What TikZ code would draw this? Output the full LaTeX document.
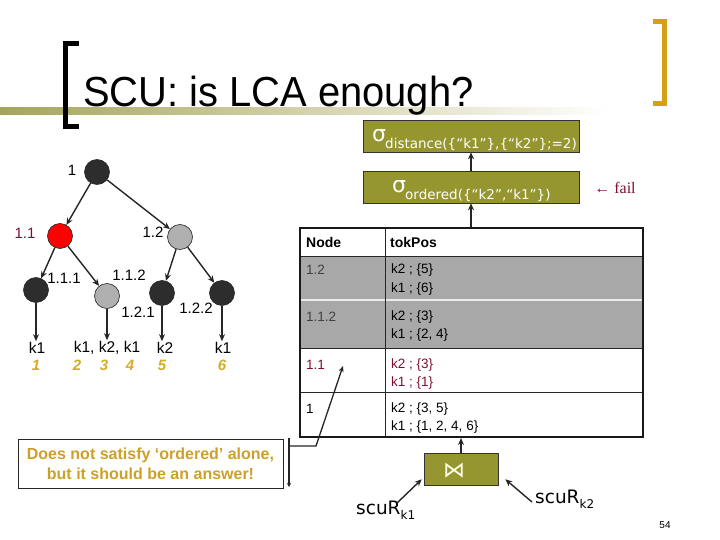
\documentclass[tikz,border=0pt]{standalone}
\usepackage{fontspec}
\setmainfont{Liberation Sans}
\newfontfamily\dvs{DejaVu Sans}
\newfontfamily\lserif{Liberation Serif}
\usetikzlibrary{arrows.meta}
\definecolor{olivebox}{RGB}{150,150,48}
\definecolor{oliveband}{RGB}{165,165,90}
\definecolor{goldtxt}{RGB}{205,160,40}
\definecolor{goldnum}{RGB}{212,172,40}
\definecolor{goldbr}{RGB}{214,160,20}
\definecolor{maroonc}{RGB}{128,16,48}
\definecolor{tgray}{RGB}{168,168,168}
\definecolor{ngray}{RGB}{176,176,176}
\definecolor{ndark}{RGB}{45,45,45}
\begin{document}
\begin{tikzpicture}[x=1pt,y=-1pt,
  tnode/.style={circle,minimum size=25pt,inner sep=0pt,draw=black!85,line width=0.6pt},
  arr/.style={-{Stealth[length=7pt,width=6pt]},line width=1.4pt,draw=black!85},
  lbl/.style={font=\fontsize{15}{15}\selectfont,inner sep=0pt},
  leaf/.style={font=\fontsize{15.5}{15.5}\selectfont,inner sep=1pt},
  num/.style={font=\fontsize{15}{15}\selectfont\bfseries\itshape,text=goldnum,inner sep=0pt},
  tt/.style={font=\fontsize{13.5}{13.5}\selectfont,anchor=west,inner sep=0pt},
  th/.style={font=\fontsize{14}{14}\selectfont\bfseries,anchor=west,inner sep=0pt},
  opbox/.style={draw=black!80,line width=0.6pt,fill=olivebox,minimum width=216pt,minimum height=32pt,inner sep=0pt},
  optxt/.style={text=white,inner sep=0pt,anchor=base west},
  bracket/.style={line width=5pt,line cap=butt,line join=miter}]
\useasboundingbox (0,0) rectangle (720,540);
\fill[white] (0,0) rectangle (720,540);

% title area
\shade[left color=oliveband, right color=white] (0,108) rectangle (610,115);
\draw[bracket,black] (79,43.5) -- (65.5,43.5) -- (65.5,126.5) -- (79,126.5);
\draw[bracket,goldbr] (653,21.5) -- (664.5,21.5) -- (664.5,103.5) -- (653,103.5);
\node[anchor=base west,inner sep=0pt,xscale=0.95,font=\fontsize{42}{42}\selectfont] (title) at (83,107) {SCU: is LCA enough?};

% operator boxes
\node[opbox] (dist) at (471,136) {};
\node[optxt,font=\dvs\fontsize{22}{22}\selectfont] (distS) at (372,142) {σ};
\node[optxt,font=\dvs\fontsize{13.5}{13.5}\selectfont] (distT) at (385,149) {distance(\{“k1”\},\{“k2”\};=2)};
\node[opbox] (ord) at (471,187) {};
\node[optxt,font=\dvs\fontsize{22}{22}\selectfont] (ordS) at (392,193) {σ};
\node[optxt,font=\dvs\fontsize{13.5}{13.5}\selectfont] (ordT) at (405,200) {ordered(\{“k2”,“k1”\})};
\node[inner sep=0pt,text=maroonc,font=\lserif\fontsize{16}{16}\selectfont] (fail) at (615,188) {← fail};
\draw[arr] (ord.north) -- (dist.south);

% tree
\node[tnode,fill=ndark] (n1) at (97,172) {};
\node[tnode,fill=red] (n11) at (60,236) {};
\node[tnode,fill=ngray] (n12) at (180,237) {};
\node[tnode,fill=ndark] (n111) at (36,290) {};
\node[tnode,fill=ngray] (n112) at (107,296) {};
\node[tnode,fill=ndark] (n121) at (162,293) {};
\node[tnode,fill=ndark] (n122) at (222,293) {};
\node[lbl] (l1) at (72,170) {1};
\node[lbl,text=maroonc] (l11) at (25,233) {1.1};
\node[lbl] (l12) at (153,232) {1.2};
\node[lbl] (l111) at (64,278) {1.1.1};
\node[lbl] (l112) at (129,275) {1.1.2};
\node[lbl] (l121) at (138,312) {1.2.1};
\node[lbl] (l122) at (196,308) {1.2.2};
\draw[arr] (n1) -- (n11);
\draw[arr] (n1) -- (n12);
\draw[arr] (n11) -- (n111);
\draw[arr] (n11) -- (n112);
\draw[arr] (n12) -- (n121);
\draw[arr] (n12) -- (n122);
\node[leaf] (k1a) at (37,348) {k1};
\node[leaf] (kmid) at (107,348) {k1, k2, k1};
\node[leaf] (k2a) at (165,348) {k2};
\node[leaf] (k1b) at (223,348) {k1};
\draw[arr] (n111) -- (n111 |- k1a.north);
\draw[arr] (n112) -- (n112 |- kmid.north);
\draw[arr] (n121) -- (n121 |- k2a.north);
\draw[arr] (n122) -- (n122 |- k1b.north);
\node[num] (p1) at (36,365) {1};
\node[num] (p2) at (77,365) {2};
\node[num] (p3) at (104,365) {3};
\node[num] (p4) at (130,365) {4};
\node[num] (p5) at (162,365) {5};
\node[num] (p6) at (222,365) {6};

% table
\fill[tgray] (300,256) rectangle (643,348);
\draw[line width=1pt,black!85] (300,256) -- (643,256);
\draw[line width=1.2pt,white!92!black] (300,300) -- (643,300);
\draw[line width=1pt,black!85] (300,348) -- (643,348);
\draw[line width=1pt,black!85] (300,392) -- (643,392);
\draw[line width=1pt,black!85] (385,228) -- (385,437);
\node[draw=black!90,line width=2pt,minimum width=343pt,minimum height=209pt,inner sep=0pt] (tbl) at (471.5,332.5) {};
\node[th] (hN) at (306,242) {Node};
\node[th] (hT) at (390,242) {tokPos};
\node[tt,text=black!75] (r1a) at (306,270) {1.2};
\node[tt] (r1b) at (391,270) {k2 ; \{5\}};
\node[tt] (r1c) at (391,289) {k1 ; \{6\}};
\node[tt,text=black!75] (r2a) at (306,317) {1.1.2};
\node[tt] (r2b) at (391,317) {k2 ; \{3\}};
\node[tt] (r2c) at (391,335) {k1 ; \{2, 4\}};
\node[tt,text=maroonc] (r3a) at (306,365) {1.1};
\node[tt,text=maroonc] (r3b) at (391,365) {k2 ; \{3\}};
\node[tt,text=maroonc] (r3c) at (391,383) {k1 ; \{1\}};
\node[tt] (r4a) at (306,409) {1};
\node[tt] (r4b) at (391,409) {k2 ; \{3, 5\}};
\node[tt] (r4c) at (391,427) {k1 ; \{1, 2, 4, 6\}};
\draw[arr] (tbl.north -| ord.south) -- (ord.south);

% join
\node[opbox,minimum width=74pt] (join) at (461,469) {};
\node[inner sep=0pt,text=white!90!yellow,font=\dvs\fontsize{22}{22}\selectfont] (joinS) at (454,471) {⋈};
\draw[arr] (join.north) -- (join.north |- tbl.south);
\node[anchor=base west,inner sep=0pt,font=\dvs\fontsize{18.5}{18.5}\selectfont] (sk1) at (356,514) {scuR\raisebox{-5pt}{\fontsize{12}{12}\selectfont k1}};
\node[anchor=base west,inner sep=0pt,font=\dvs\fontsize{18.5}{18.5}\selectfont] (sk2) at (535,503) {scuR\raisebox{-5pt}{\fontsize{12}{12}\selectfont k2}};
\coordinate (sa1) at (397,503);
\coordinate (sa2) at (532,502);
\draw[arr] (sa1) -- ([xshift=-2pt,yshift=6pt]join.south west);
\draw[arr] (sa2) -- ([xshift=7pt,yshift=6pt]join.south east);

% callout
\node[draw=black!85,line width=0.8pt,minimum width=265pt,minimum height=49pt,inner sep=0pt,align=center,text=goldtxt,font=\fontsize{16}{20}\selectfont\bfseries] (cbox) at (150.5,463.5) {Does not satisfy ‘ordered’ alone,\\but it should be an answer!};
\coordinate (cb1) at (289,438);
\coordinate (cb2) at (289,487);
\coordinate (cl1) at (289,446);
\coordinate (cl2) at (316,446);
\coordinate (ctip) at (343,366);
\draw[line width=1.3pt,black!85,-{Stealth[length=4pt,width=4pt]}] (cb1) -- (cb2);
\draw[line width=1.3pt,black!85,-{Stealth[length=6pt,width=5pt]}] (cl1) -- (cl2) -- (ctip);

\node[inner sep=0pt,font=\fontsize{10}{10}\selectfont] (pg) at (665,525) {54};
\end{tikzpicture}
\end{document}
